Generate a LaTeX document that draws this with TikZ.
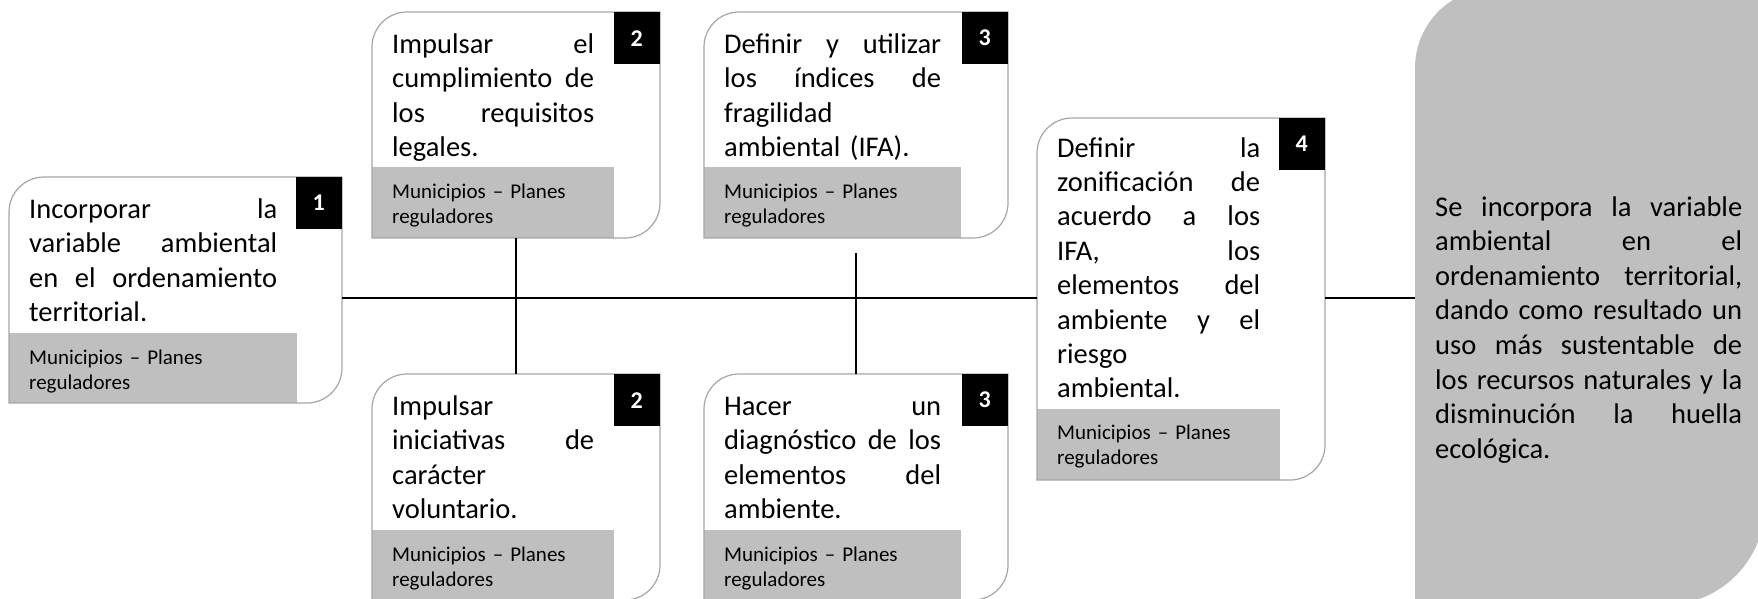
\documentclass[tikz,border=0pt]{standalone}
\usepackage{fontspec}
\setmainfont{Carlito}
\definecolor{boxgray}{HTML}{BFBFBF}
\definecolor{framegray}{HTML}{A6A6A6}
\newcommand{\J}[1]{\noindent\hbox to \hsize{\spaceskip=0pt\xspaceskip=0pt\relax #1}\par}
\newcommand{\N}[1]{\noindent\hbox{#1}\par}
\newcommand{\actbox}[7]{%
  \node[frame, minimum width={#4-#2}, minimum height={#5-#3}] (#1) at (#2,#3) {};
  \fill[boxgray] (#2,#7) rectangle (#6,#5);
  \draw[frameline] (#2,#5) -- (#2,#3+35) arc[start angle=180,end angle=270,radius=35] -- (#4,#3) -- (#4,#5-35) arc[start angle=0,end angle=90,radius=35] -- cycle;
}
\tikzset{
  frameline/.style={draw=framegray, line width=1.2pt},
  numbox/.style={fill=black, text=white, font=\bfseries\fontsize{24}{28}\selectfont, minimum width=46, minimum height=52, inner sep=0, anchor=north east},
  maintext/.style={anchor=base west, inner sep=0, font=\fontsize{28.5}{34.6}\selectfont},
  subtext/.style={anchor=base west, inner sep=0, font=\fontsize{21}{25}\selectfont, text width=240},
  axisline/.style={line width=2.5pt, black},
  frame/.style={inner sep=0, outer sep=0, anchor=north west}
}
\begin{document}
\begin{tikzpicture}[x=1pt, y=1pt, yscale=-1]
\useasboundingbox[fill=white] (0,0) rectangle (1758,598);

% result box
\fill[boxgray] (1415,68) arc[start angle=180,end angle=270,radius=80] -- (1765,-12) -- (1765,505) arc[start angle=0,end angle=90,radius=100] -- (1415,605) -- cycle;
\node[frame, minimum width=350, minimum height=617] (res) at (1415,-12) {};
\node[maintext, text width=307] (rt) at (1435,216) {\J{Se incorpora la variable}\J{ambiental en el}\J{ordenamiento territorial,}\J{dando como resultado un}\J{uso más sustentable de}\J{los recursos naturales y la}\J{disminución la huella}\N{ecológica.}};

% activity boxes
\actbox{b1}{9}{177}{342}{403}{297}{333}
\actbox{b2t}{372}{12}{660}{238}{614}{167}
\actbox{b3t}{704}{12}{1008}{238}{961}{167}
\actbox{b2b}{372}{374}{660}{600}{614}{530}
\actbox{b3b}{704}{374}{1008}{600}{961}{530}
\actbox{b4}{1037}{118}{1325}{480}{1280}{409}

\node[numbox] (n1) at (b1.north east) {1};
\node[numbox] (n2t) at (b2t.north east) {2};
\node[numbox] (n3t) at (b3t.north east) {3};
\node[numbox] (n2b) at (b2b.north east) {2};
\node[numbox] (n3b) at (b3b.north east) {3};
\node[numbox] (n4) at (b4.north east) {4};

\node[maintext, text width=248] (t1) at (29,218) {\J{Incorporar la}\J{variable ambiental}\J{en el ordenamiento}\N{territorial.}};
\node[maintext, text width=202] (t2t) at (392,53) {\J{Impulsar el}\J{cumplimiento de}\J{los requisitos}\N{legales.}};
\node[maintext, text width=217] (t3t) at (724,53) {\J{Definir y utilizar}\J{los índices de}\N{fragilidad}\N{ambiental (IFA).}};
\node[maintext, text width=202] (t2b) at (392,415) {\N{Impulsar}\J{iniciativas de}\N{carácter}\N{voluntario.}};
\node[maintext, text width=217] (t3b) at (724,415) {\J{Hacer un}\J{diagnóstico de los}\J{elementos del}\N{ambiente.}};
\node[maintext, text width=203, font=\fontsize{28.5}{34.4}\selectfont] (t4) at (1057,157) {\J{Definir la}\J{zonificación de}\J{acuerdo a los}\J{IFA, los}\J{elementos del}\J{ambiente y el}\N{riesgo}\N{ambiental.}};

\node[subtext] (s1) at (29,364) {\N{Municipios – Planes}\N{reguladores}};
\node[subtext] (s2t) at (392,198) {\N{Municipios – Planes}\N{reguladores}};
\node[subtext] (s3t) at (724,198) {\N{Municipios – Planes}\N{reguladores}};
\node[subtext] (s2b) at (392,561) {\N{Municipios – Planes}\N{reguladores}};
\node[subtext] (s3b) at (724,561) {\N{Municipios – Planes}\N{reguladores}};
\node[subtext] (s4) at (1057,439) {\N{Municipios – Planes}\N{reguladores}};

% connectors
\coordinate (ax) at (0,298);
\draw[axisline] (b1.east |- ax) -- (b4.west |- ax);
\draw[axisline] (b4.east |- ax) -- (res.west |- ax);
\draw[axisline] (b2t.south) -- (b2b.north);
\coordinate (v3) at (856,253);
\draw[axisline] (v3) -- (b3b.north);
\end{tikzpicture}
\end{document}
